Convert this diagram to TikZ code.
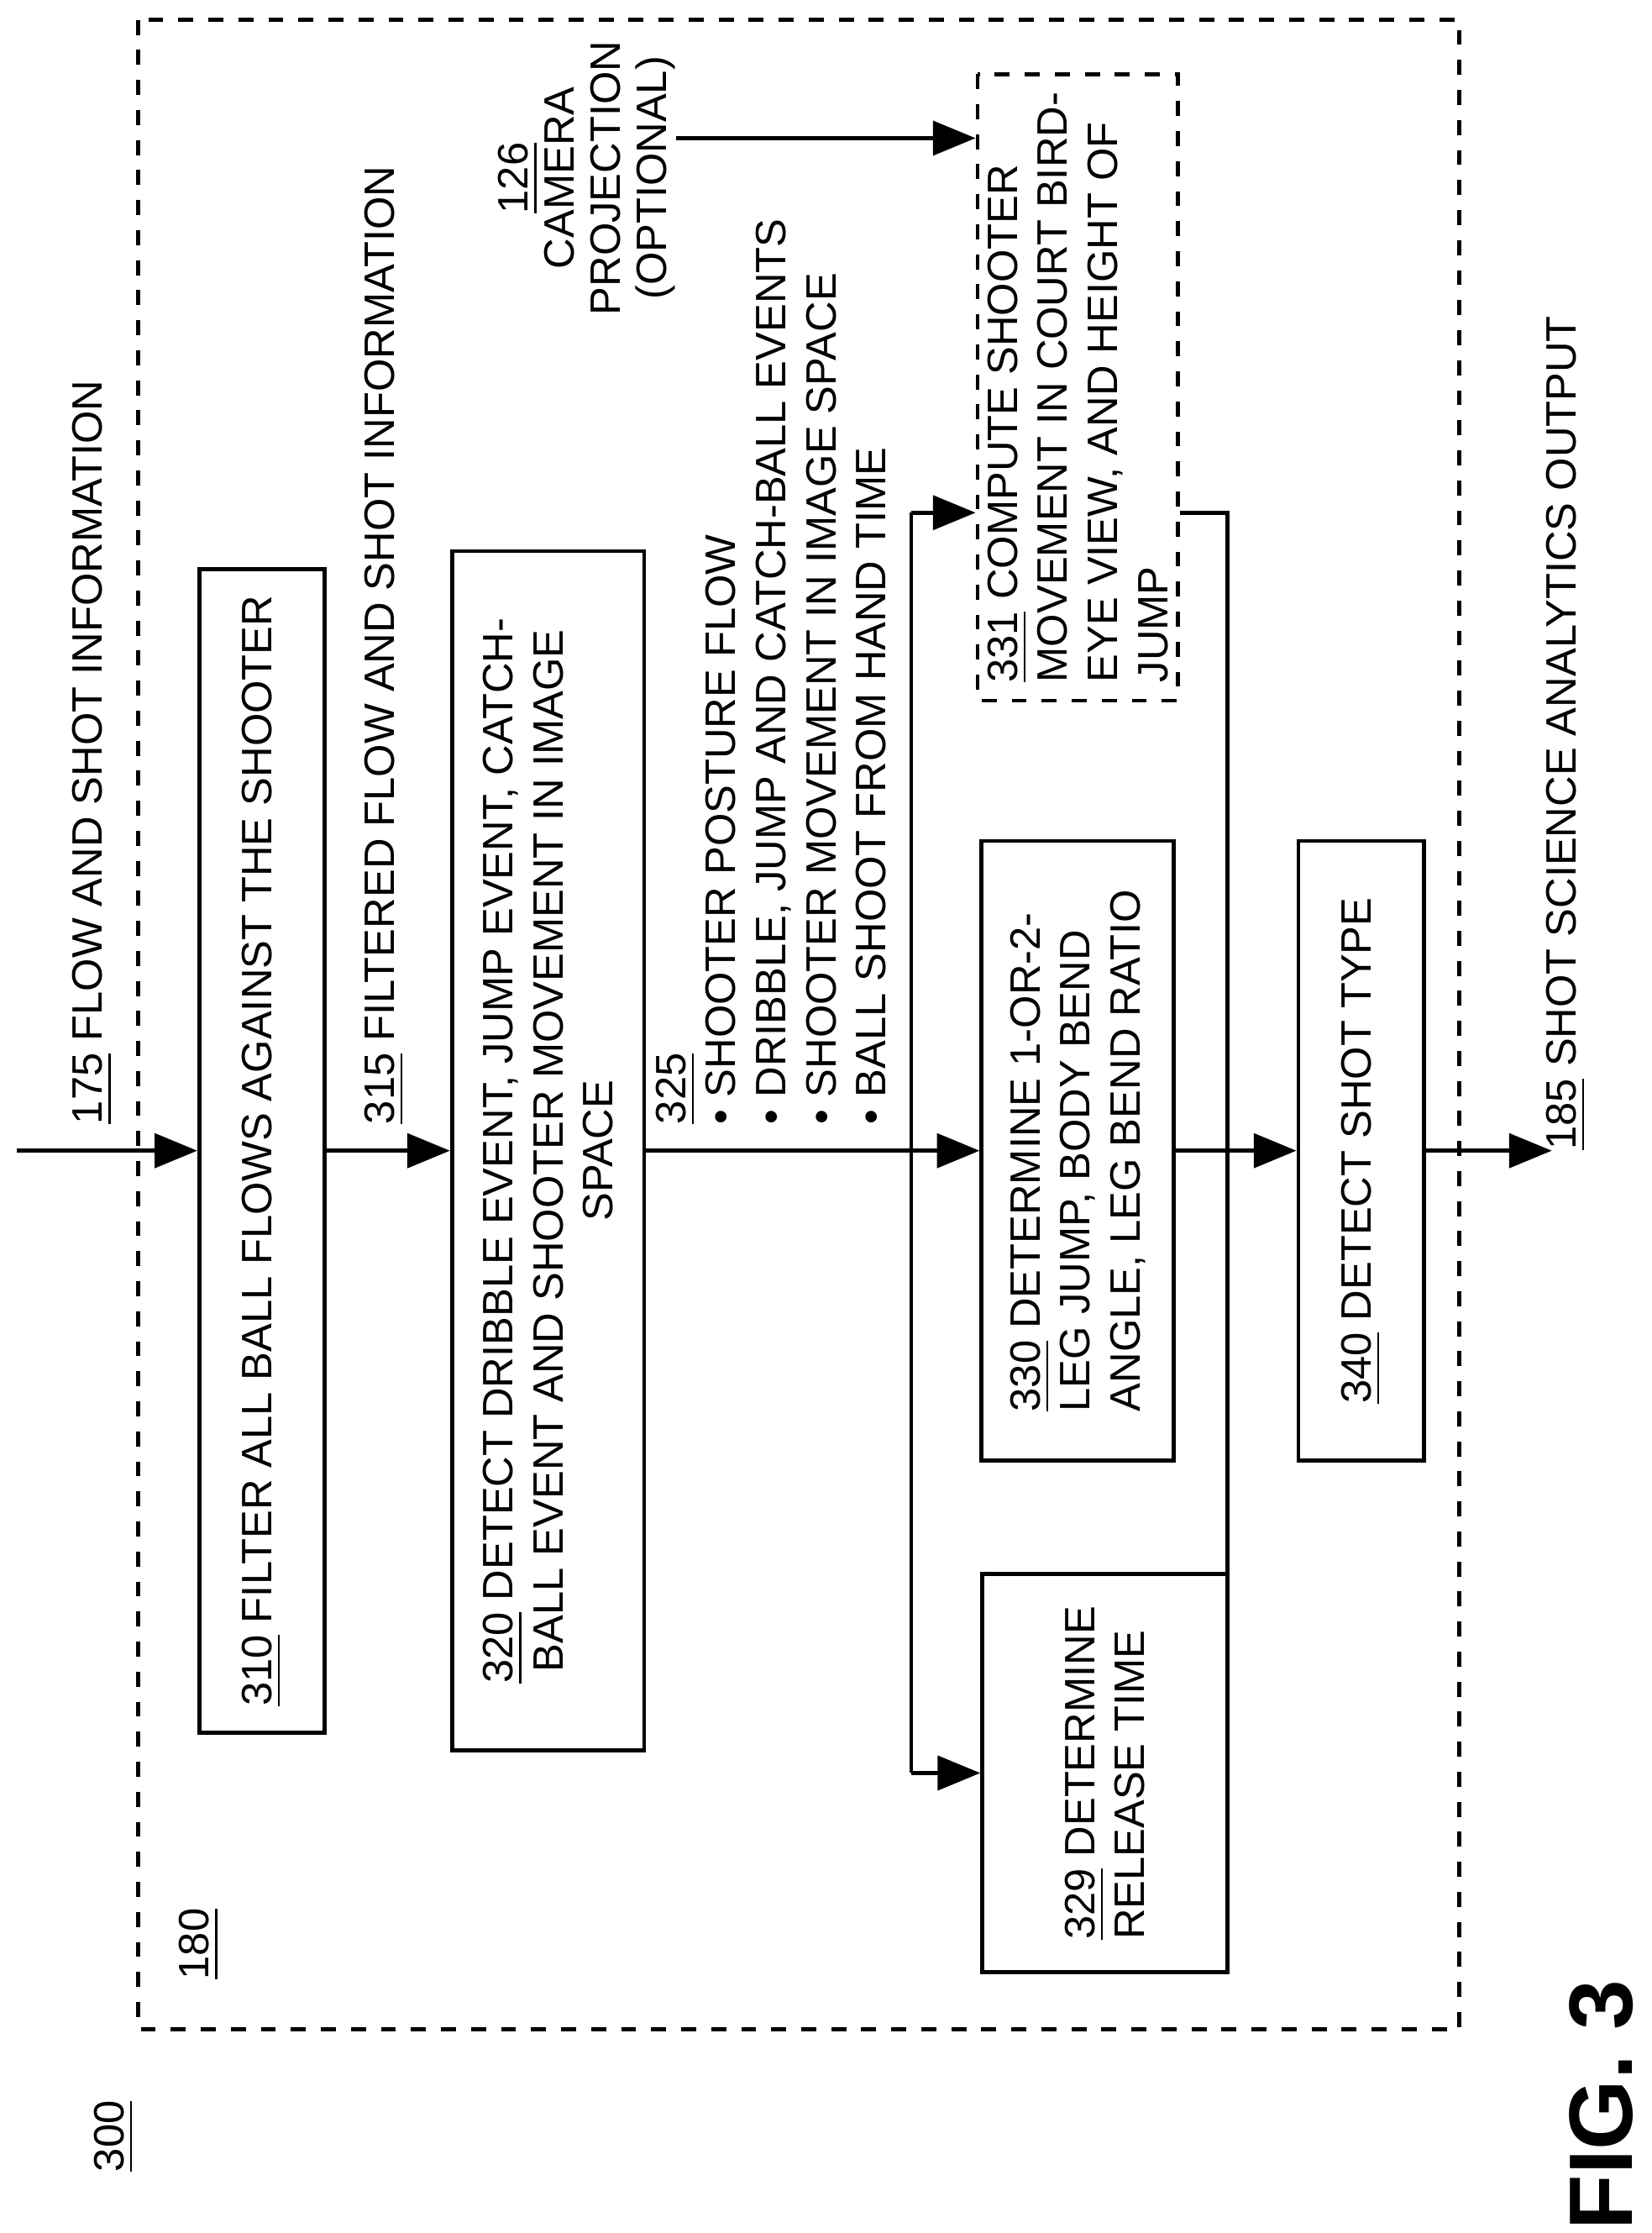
\documentclass[tikz,border=0pt]{standalone}
\usepackage{fontspec}
\setmainfont{Liberation Sans}
\usetikzlibrary{arrows.meta, positioning}

\tikzset{
    box/.style = {draw, thick, rotate=90, align=center, inner sep=2pt},
    lbl/.style = {rotate=90, align=left, inner sep=0pt},
    flow/.style = {thick, -{Triangle[length=3mm, width=2.4mm]}},
}

\begin{document}
\begin{tikzpicture}[
    x=0.1mm, y=-0.1mm,
    font=\fontsize{8.5}{10}\selectfont
]
\useasboundingbox (0,0) rectangle (1160,1568);

% frame
\draw[thick, dashed] (97,14) rectangle (1025,1425);
\node[lbl] (n180) at (140,1365) {\underline{180}};
\node[lbl] (n300) at (80,1500) {\underline{300}};
\node[lbl, font=\fontsize{18}{20}\selectfont\bfseries] (fig) at (1125,1478) {FIG. 3};

% blocks
\node[box, minimum width=81.7mm, minimum height=8.8mm] (b310) at (184,808)
    {\underline{310} FILTER ALL BALL FLOWS AGAINST THE SHOOTER};
\node[box, minimum width=84.2mm, minimum height=13.5mm] (b320) at (385,808)
    {\underline{320} DETECT DRIBBLE EVENT, JUMP EVENT, CATCH-\\
     BALL EVENT AND SHOOTER MOVEMENT IN IMAGE\\ SPACE};
\node[box, minimum width=43.5mm, minimum height=13.5mm, align=left] (b330) at (757,808)
    {\underline{330} DETERMINE 1-OR-2-\\LEG JUMP, BODY BEND\\ANGLE, LEG BEND RATIO};
\node[box, minimum width=28mm, minimum height=17.2mm, align=left] (b329) at (776,1245)
    {\underline{329} DETERMINE\\RELEASE TIME};
\node[box, minimum width=43.5mm, minimum height=8.8mm] (b340) at (956,808)
    {\underline{340} DETECT SHOT TYPE};
\node[box, dashed, minimum width=44mm, minimum height=13.5mm, align=left] (b331) at (757,272)
    {\underline{331} COMPUTE SHOOTER\\MOVEMENT IN COURT BIRD-\\EYE VIEW, AND HEIGHT OF\\JUMP};
\node[lbl, align=center, font=\fontsize{8.5}{9.2}\selectfont] (cam) at (412,125)
    {\underline{126}\\CAMERA\\PROJECTION\\(OPTIONAL)};

% labels
\node[lbl, anchor=west] (l175) at (65,790) {\underline{175} FLOW AND SHOT INFORMATION};
\node[lbl, anchor=west] (l315) at (270,790) {\underline{315} FILTERED FLOW AND SHOT INFORMATION};
\node[lbl, anchor=north west] (l325) at (460,790)
    {\underline{325}\\
     \textbullet{} SHOOTER POSTURE FLOW\\
     \textbullet{} DRIBBLE, JUMP AND CATCH-BALL EVENTS\\
     \textbullet{} SHOOTER MOVEMENT IN IMAGE SPACE\\
     \textbullet{} BALL SHOOT FROM HAND TIME};
\node[lbl, anchor=west] (l185) at (1100,808) {\underline{185} SHOT SCIENCE ANALYTICS OUTPUT};

% connectors
\coordinate (in) at (12,808);
\coordinate (out) at (1090,808);
\coordinate (split) at (640,808);
\coordinate (s331) at (640,360);
\coordinate (s329) at (640,1245);
\coordinate (m331) at (862,360);
\coordinate (m329) at (862,1245);

\draw[flow] (in) -- (b310.north);
\draw[flow] (b310.south) -- (b320.north);
\draw[thick] (b320.south) -- (split);
\draw[thick] (s331) -- (s329);
\draw[flow] (split) -- (b330.north);
\draw[flow] (s331) -- (s331 -| b331.north);
\draw[flow] (s329) -- (b329.north);
\draw[thick] (b329.south) -- (m329) -- (m331) -- (m331 -| b331.south);
\draw[flow] (b330.south) -- (b340.north);
\draw[flow] (b340.south) -- (out);
\draw[flow] (cam.south |- 0,97) -- (b331.north |- 0,97);

\end{tikzpicture}
\end{document}
